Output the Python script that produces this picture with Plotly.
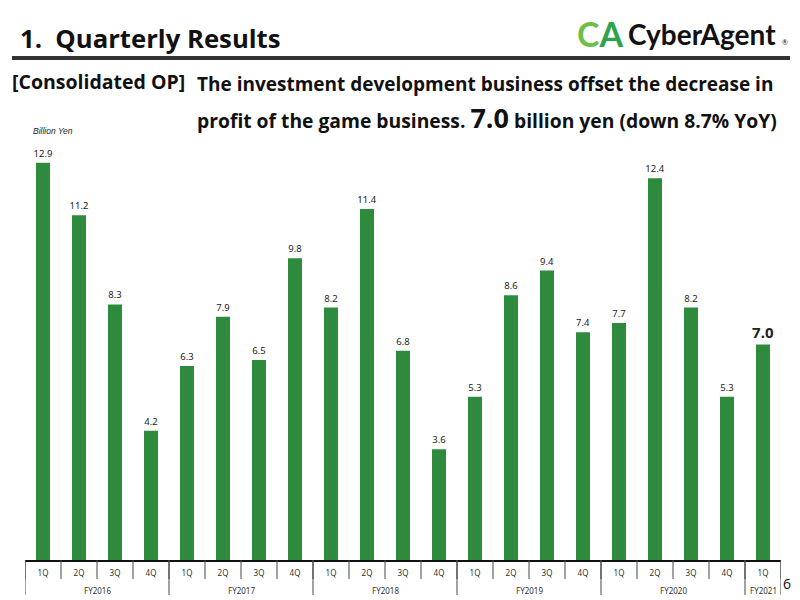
import plotly.graph_objects as go

quarters = ["1Q", "2Q", "3Q", "4Q"] * 5 + ["1Q"]
fiscal_years = ["FY2016", "FY2017", "FY2018", "FY2019", "FY2020", "FY2021"]
quarters_per_year = [4, 4, 4, 4, 4, 1]
op_values = [12.9, 11.2, 8.3, 4.2, 6.3, 7.9, 6.5, 9.8, 8.2, 11.4, 6.8, 3.6,
             5.3, 8.6, 9.4, 7.4, 7.7, 12.4, 8.2, 5.3, 7.0]

GREEN = "#2E8B3D"
FONT = "Open Sans"

n = len(op_values)
xs = list(range(n))
labels = [f"{v:.1f}" for v in op_values]
labels[-1] = f"<b>{op_values[-1]:.1f}</b>"
sizes = [9.5] * (n - 1) + [15]

fig = go.Figure()
fig.add_trace(go.Bar(
    x=xs, y=op_values, marker_color=GREEN, marker_line_width=0,
    text=labels, textposition="outside", cliponaxis=False, constraintext="none",
    textfont=dict(size=sizes, color="#222", family="Noto Sans"),
    hoverinfo="skip",
))

fig.update_layout(
    width=800, height=600,
    margin=dict(l=25, r=19, t=129, b=40),
    paper_bgcolor="white", plot_bgcolor="white",
    showlegend=False, bargap=0.61,
    xaxis=dict(range=[-0.5, n - 0.5], tickvals=xs, ticktext=quarters,
               showgrid=False, zeroline=False, showline=True,
               linecolor="#111", linewidth=1.5,
               tickfont=dict(size=8, color="#333", family="Noto Sans"),
               ticks="", ticklabelstandoff=5, fixedrange=True),
    yaxis=dict(range=[0, 14.0], visible=False, fixedrange=True),
)

plot_h = 600 - 129 - 40
plot_w = 800 - 25 - 19
def py(ypix):
    return (600 - 40 - ypix) / plot_h
def px(xpix):
    return (xpix - 25) / plot_w

shapes = []
# quarter separators
for i in range(n + 1):
    shapes.append(dict(type="line", xref="x", yref="paper", x0=i - 0.5, x1=i - 0.5,
                       y0=0, y1=py(579), line=dict(color="#444", width=1)))
# year separators and labels
start = 0
annotations = []
bounds = [0]
for fy, cnt in zip(fiscal_years, quarters_per_year):
    end = start + cnt
    bounds.append(end)
    annotations.append(dict(x=(start + end - 1) / 2, y=py(590), xref="x", yref="paper",
                            text=fy, showarrow=False, yanchor="middle",
                            font=dict(size=8, color="#333", family="Noto Sans")))
    start = end
for b in bounds:
    shapes.append(dict(type="line", xref="x", yref="paper", x0=b - 0.5, x1=b - 0.5,
                       y0=0, y1=py(595), line=dict(color="#444", width=1)))

# header line
shapes.append(dict(type="line", xref="paper", yref="paper", x0=px(12), x1=px(790),
                   y0=py(58), y1=py(58), line=dict(color="#333", width=4)))
fig.update_layout(shapes=shapes)

annotations += [
    dict(x=px(18), y=py(38), xref="paper", yref="paper", xanchor="left", yanchor="middle",
         text="<b>1.  Quarterly Results</b>", showarrow=False,
         font=dict(size=25.7, color="#111", family=FONT)),
    dict(x=px(575), y=py(33), xref="paper", yref="paper", xanchor="left", yanchor="middle",
         text="<b><span style='color:#6CC04A'>C</span><span style='color:#2DA44E'>A</span></b>",
         showarrow=False, font=dict(size=34, family="Lato")),
    dict(x=px(626), y=py(34), xref="paper", yref="paper", xanchor="left", yanchor="middle",
         text="<b>CyberAgent</b>", showarrow=False,
         font=dict(size=28, color="#111", family="Lato")),
    dict(x=px(780), y=py(42), xref="paper", yref="paper", xanchor="left", yanchor="middle",
         text="®", showarrow=False, font=dict(size=7, color="#111", family="Lato")),
    dict(x=px(10), y=py(82), xref="paper", yref="paper", xanchor="left", yanchor="middle",
         text="<b>[Consolidated OP]</b>", showarrow=False,
         font=dict(size=19.5, color="#111", family=FONT)),
    dict(x=px(195), y=py(84), xref="paper", yref="paper", xanchor="left", yanchor="middle",
         text="<b>The investment development business offset the decrease in</b>",
         showarrow=False, font=dict(size=19, color="#111", family=FONT)),
    dict(x=px(195), y=py(117), xref="paper", yref="paper", xanchor="left", yanchor="middle",
         text="<b>profit of the game business. <span style='font-size:27px'>7.0</span> billion yen (down 8.7% YoY)</b>",
         showarrow=False, font=dict(size=19.3, color="#111", family=FONT)),
    dict(x=px(31), y=py(131), xref="paper", yref="paper", xanchor="left", yanchor="middle",
         text="<i>Billion Yen</i>", showarrow=False,
         font=dict(size=8.5, color="#222", family="Liberation Sans")),
    dict(x=px(787), y=py(583), xref="paper", yref="paper", xanchor="center", yanchor="middle",
         text="6", showarrow=False, font=dict(size=14, color="#111", family=FONT)),
]
fig.update_layout(annotations=annotations)

fig.write_html("out.html")
